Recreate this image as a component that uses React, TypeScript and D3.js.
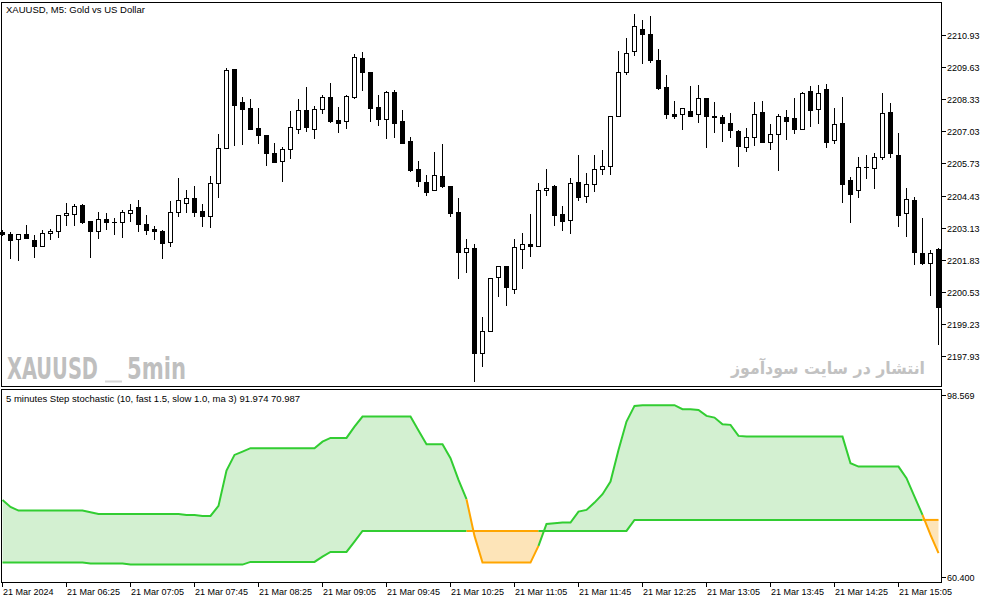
import React from 'react';
import * as d3 from 'd3';

// XAUUSD M5 candles, 21 Mar 2024 05:45 .. 15:30
const opens = [
  2202.96, 2202.87, 2202.66, 2202.87, 2202.64, 2202.40, 2202.91, 2203.00, 2203.63, 2203.67,
  2204.04, 2203.40, 2203.00, 2203.47, 2203.35, 2203.35, 2203.71, 2203.96, 2203.27, 2203.08,
  2203.00, 2202.54, 2203.75, 2204.14, 2204.32, 2203.79, 2203.59, 2204.93, 2206.34, 2209.53,
  2208.20, 2207.96, 2207.16, 2206.87, 2206.14, 2205.82, 2206.30, 2207.11, 2207.88, 2207.11,
  2207.92, 2208.40, 2207.47, 2207.43, 2208.43, 2209.98, 2209.41, 2207.99, 2207.54, 2208.60,
  2207.44, 2206.62, 2205.49, 2204.97, 2204.64, 2205.21, 2204.80, 2203.75, 2202.14, 2202.30,
  2198.06, 2198.97, 2201.13, 2201.57, 2200.64, 2202.26, 2202.46, 2202.38, 2204.64, 2204.80,
  2203.67, 2203.43, 2204.97, 2204.40, 2204.89, 2205.49, 2205.61, 2207.63, 2209.41, 2210.26,
  2211.15, 2210.95, 2209.90, 2208.80, 2207.71, 2207.71, 2207.84, 2207.71, 2208.36, 2207.63,
  2207.59, 2207.35, 2207.03, 2206.38, 2206.79, 2207.80, 2206.58, 2206.91, 2207.59, 2207.55,
  2207.11, 2208.64, 2207.92, 2208.72, 2206.66, 2207.35, 2205.05, 2204.64, 2205.57, 2205.53,
  2205.98, 2207.80, 2206.06, 2203.71, 2204.24, 2202.10, 2201.69, 2202.26,
];
const highs = [
  2203.04, 2202.95, 2202.87, 2203.24, 2202.83, 2203.04, 2203.09, 2203.63, 2204.13, 2204.09,
  2204.09, 2203.40, 2203.77, 2203.73, 2203.54, 2203.86, 2204.09, 2204.25, 2203.63, 2203.21,
  2203.04, 2204.20, 2205.14, 2204.64, 2204.82, 2204.09, 2205.22, 2206.91, 2209.57, 2209.53,
  2208.41, 2208.32, 2207.97, 2206.87, 2206.54, 2206.38, 2207.84, 2208.32, 2208.81, 2208.05,
  2208.48, 2208.97, 2208.00, 2208.48, 2210.14, 2210.22, 2209.41, 2208.48, 2208.64, 2208.68,
  2207.88, 2206.78, 2205.82, 2205.25, 2206.18, 2206.50, 2204.80, 2204.32, 2202.66, 2202.46,
  2199.51, 2201.09, 2201.57, 2201.57, 2202.68, 2202.92, 2203.69, 2204.94, 2205.50, 2204.85,
  2204.00, 2205.14, 2206.07, 2205.34, 2206.07, 2206.27, 2207.63, 2210.27, 2210.78, 2211.75,
  2211.51, 2211.67, 2210.34, 2209.29, 2208.25, 2207.96, 2208.85, 2208.89, 2208.36, 2208.20,
  2207.67, 2207.75, 2207.07, 2207.15, 2208.20, 2208.24, 2207.31, 2207.71, 2207.88, 2208.36,
  2208.60, 2208.85, 2208.89, 2208.93, 2207.96, 2208.40, 2205.17, 2205.98, 2206.06, 2206.14,
  2208.56, 2208.16, 2206.95, 2204.72, 2204.36, 2203.51, 2202.22, 2202.30,
];
const lows = [
  2202.80, 2201.86, 2201.80, 2202.66, 2201.90, 2202.40, 2202.64, 2202.73, 2203.21, 2203.21,
  2203.27, 2201.90, 2202.69, 2203.04, 2202.83, 2202.73, 2203.35, 2202.95, 2202.83, 2202.64,
  2201.87, 2202.36, 2203.55, 2203.74, 2203.55, 2203.17, 2203.13, 2204.34, 2206.34, 2206.45,
  2206.49, 2207.11, 2206.53, 2205.63, 2205.76, 2204.99, 2205.92, 2206.92, 2207.01, 2206.70,
  2207.74, 2207.37, 2206.97, 2207.13, 2208.34, 2208.67, 2207.42, 2207.25, 2206.70, 2206.77,
  2206.50, 2205.37, 2204.79, 2204.40, 2204.64, 2204.72, 2203.58, 2201.07, 2201.29, 2196.91,
  2197.49, 2198.97, 2200.32, 2199.98, 2200.44, 2201.48, 2201.96, 2202.38, 2204.43, 2203.21,
  2203.01, 2202.89, 2204.22, 2204.12, 2204.59, 2205.27, 2205.27, 2207.63, 2209.29, 2210.06,
  2209.73, 2209.77, 2208.71, 2207.51, 2207.51, 2207.07, 2207.62, 2207.35, 2206.34, 2206.95,
  2206.58, 2206.74, 2205.57, 2206.18, 2206.42, 2206.54, 2206.26, 2205.44, 2206.66, 2206.91,
  2207.07, 2207.19, 2207.31, 2206.34, 2206.50, 2204.12, 2203.31, 2204.32, 2205.09, 2204.68,
  2205.86, 2205.94, 2203.15, 2202.74, 2201.61, 2201.61, 2200.36, 2198.38,
];
const closes = [
  2202.86, 2202.62, 2202.87, 2202.73, 2202.40, 2202.91, 2203.00, 2203.63, 2203.73, 2204.00,
  2203.35, 2203.00, 2203.47, 2203.35, 2203.36, 2203.77, 2203.85, 2203.27, 2203.04, 2203.00,
  2202.50, 2203.75, 2204.24, 2204.32, 2203.78, 2203.62, 2204.93, 2206.34, 2209.49, 2208.10,
  2207.94, 2207.11, 2206.89, 2206.14, 2205.80, 2206.31, 2207.19, 2207.88, 2207.21, 2207.92,
  2208.40, 2207.46, 2207.37, 2208.44, 2210.02, 2209.41, 2207.98, 2207.54, 2208.60, 2207.37,
  2206.57, 2205.45, 2205.01, 2204.56, 2205.25, 2204.80, 2203.71, 2202.14, 2202.32, 2198.06,
  2198.97, 2201.09, 2201.57, 2200.72, 2202.34, 2202.46, 2202.38, 2204.64, 2204.72, 2203.66,
  2203.39, 2204.93, 2204.38, 2204.89, 2205.49, 2205.61, 2207.63, 2209.41, 2210.18, 2211.27,
  2210.95, 2209.90, 2208.79, 2207.71, 2207.63, 2207.96, 2207.66, 2208.36, 2207.63, 2207.59,
  2207.35, 2207.07, 2206.42, 2206.79, 2207.71, 2206.58, 2206.91, 2207.63, 2207.43, 2207.11,
  2208.56, 2207.88, 2208.56, 2206.58, 2207.31, 2204.89, 2204.48, 2205.57, 2205.58, 2205.98,
  2207.75, 2206.14, 2203.63, 2204.28, 2202.14, 2201.69, 2202.10, 2199.94,
];

// Step stochastic: main and signal
const mainLine = [
  76.49, 75.02, 74.24, 74.24, 74.24, 74.24, 74.24, 74.24, 74.24, 74.24,
  74.24, 73.91, 73.55, 73.55, 73.55, 73.55, 73.55, 73.55, 73.55, 73.55,
  73.55, 73.55, 73.55, 73.34, 73.34, 73.13, 73.13, 75.23, 82.63, 85.92,
  86.62, 87.33, 87.33, 87.33, 87.33, 87.33, 87.33, 87.33, 87.33, 87.33,
  88.71, 89.49, 89.49, 89.49, 91.86, 93.96, 93.96, 93.96, 93.96, 93.96,
  93.96, 93.96, 91.02, 88.17, 88.17, 88.17, 85.23, 80.68, 76.63, 68.94,
  63.34, 63.34, 63.34, 63.34, 63.34, 63.34, 63.34, 66.84, 71.45, 71.60,
  71.73, 71.73, 74.03, 74.39, 75.92, 77.68, 80.32, 86.97, 92.91, 96.20,
  96.35, 96.35, 96.35, 96.35, 96.35, 95.51, 95.51, 95.36, 94.10, 93.75,
  92.36, 92.22, 89.91, 89.76, 89.76, 89.76, 89.76, 89.76, 89.76, 89.76,
  89.76, 89.76, 89.76, 89.76, 89.76, 89.76, 84.18, 83.47, 83.47, 83.47,
  83.47, 83.47, 83.47, 81.04, 77.18, 73.34, 69.15, 65.31,
];
const signalLine = [
  63.34, 63.34, 63.34, 63.34, 63.34, 63.34, 63.34, 63.34, 63.34, 63.34,
  63.34, 63.13, 63.13, 63.13, 63.13, 63.13, 62.92, 62.92, 62.92, 62.92,
  62.92, 62.92, 62.92, 62.92, 62.92, 62.92, 62.92, 62.92, 62.92, 62.92,
  62.92, 63.48, 63.48, 63.48, 63.48, 63.48, 63.48, 63.48, 63.48, 63.48,
  64.59, 65.58, 65.58, 65.58, 67.74, 69.98, 69.98, 69.98, 69.98, 69.98,
  69.98, 69.98, 69.98, 69.98, 69.98, 69.98, 69.98, 69.98, 69.98, 69.98,
  69.98, 69.98, 69.98, 69.98, 69.98, 69.98, 69.98, 69.98, 69.98, 69.98,
  69.98, 69.98, 69.98, 69.98, 69.98, 69.98, 69.98, 69.98, 69.98, 72.29,
  72.29, 72.29, 72.29, 72.29, 72.29, 72.29, 72.29, 72.29, 72.29, 72.29,
  72.29, 72.29, 72.29, 72.29, 72.29, 72.29, 72.29, 72.29, 72.29, 72.29,
  72.29, 72.29, 72.29, 72.29, 72.29, 72.29, 72.29, 72.29, 72.29, 72.29,
  72.29, 72.29, 72.29, 72.29, 72.29, 72.29, 72.29, 72.29,
];

const timeLabels = [
  '21 Mar 2024', '21 Mar 06:25', '21 Mar 07:05', '21 Mar 07:45', '21 Mar 08:25',
  '21 Mar 09:05', '21 Mar 09:45', '21 Mar 10:25', '21 Mar 11:05', '21 Mar 11:45',
  '21 Mar 12:25', '21 Mar 13:05', '21 Mar 13:45', '21 Mar 14:25', '21 Mar 15:05',
];
const priceTicks = [
  2210.93, 2209.63, 2208.33, 2207.03, 2205.73, 2204.43,
  2203.13, 2201.83, 2200.53, 2199.23, 2197.93,
];
const stochTicks = [98.569, 60.4];

const GREEN = '#32cd32';
const ORANGE = '#ffa500';
const FONT = '"Liberation Sans", Arial, sans-serif';

export default function App() {
  const n = closes.length;
  const barStep = 8;
  const x = d3.scaleLinear().domain([0, n - 1]).range([2.5, 2.5 + barStep * (n - 1)]);
  const yPrice = d3.scaleLinear().domain([2197.93, 2210.93]).range([356.4, 34.7]);
  const yStoch = d3.scaleLinear().domain([60.4, 98.569]).range([576.6, 394.6]);

  // fill between main and signal, split where they cross
  const greenPolys: [number, number][][] = [];
  const orangePolys: [number, number][][] = [];
  for (let i = 0; i < n - 1; i++) {
    const m0 = mainLine[i], m1 = mainLine[i + 1];
    const s0 = signalLine[i], s1 = signalLine[i + 1];
    const d0 = m0 - s0, d1 = m1 - s1;
    const x0 = x(i), x1 = x(i + 1);
    if (d0 * d1 < 0) {
      const t = d0 / (d0 - d1);
      const xc = x0 + t * (x1 - x0);
      const vc = m0 + t * (m1 - m0);
      (d0 > 0 ? greenPolys : orangePolys).push([[x0, yStoch(m0)], [xc, yStoch(vc)], [x0, yStoch(s0)]]);
      (d1 > 0 ? greenPolys : orangePolys).push([[xc, yStoch(vc)], [x1, yStoch(m1)], [x1, yStoch(s1)]]);
    } else {
      (d0 + d1 >= 0 ? greenPolys : orangePolys).push([
        [x0, yStoch(m0)], [x1, yStoch(m1)], [x1, yStoch(s1)], [x0, yStoch(s0)],
      ]);
    }
  }
  const polyPath = (polys: [number, number][][]) =>
    polys.map(p => 'M' + p.map(q => q[0].toFixed(2) + ',' + q[1].toFixed(2)).join('L') + 'Z').join('');

  // line segments coloured by the state of the bar they end on
  const runs = (values: number[]) => {
    const out: { idx: number[]; color: string }[] = [];
    for (let i = 1; i < n; i++) {
      const color = mainLine[i] >= signalLine[i] ? GREEN : ORANGE;
      const last = out[out.length - 1];
      if (last && last.color === color) last.idx.push(i);
      else out.push({ idx: [i - 1, i], color });
    }
    const line = d3.line<number>().x(i => x(i)).y(i => yStoch(values[i]));
    return out.map(r => ({ d: line(r.idx) || '', color: r.color }));
  };
  const signalRuns = runs(signalLine);
  const mainRuns = runs(mainLine);

  return (
    <svg width={994} height={603} style={{ position: 'absolute', left: 0, top: 0, background: '#fff' }}
      fontFamily={FONT}>
      <rect x={0} y={0} width={994} height={603} fill="#fff" />

      {/* watermarks */}
      <text x={7} y={378.5} fontFamily='"Liberation Sans Narrow", "DejaVu Sans Condensed", sans-serif'
        fontWeight="bold" fontSize={30} fill="#bfbfbf" textLength={91} lengthAdjust="spacingAndGlyphs">XAUUSD</text>
      <rect x={105} y={380.5} width={17} height={2} fill="#d6d6d6" />
      <text x={127} y={378.5} fontFamily='"Liberation Sans Narrow", "DejaVu Sans Condensed", sans-serif'
        fontWeight="bold" fontSize={30} fill="#bfbfbf" textLength={59} lengthAdjust="spacingAndGlyphs">5min</text>
      <text x={731} y={374} fontFamily='"DejaVu Sans", sans-serif' fontWeight="bold"
        fontSize={17} fill="#c2c2c2" textLength={194} lengthAdjust="spacingAndGlyphs">انتشار در سایت سودآموز</text>

      {/* candles */}
      {closes.map((c, i) => {
        const o = opens[i];
        const cx = x(i);
        const top = Math.round(yPrice(Math.max(o, c)));
        const bot = Math.round(yPrice(Math.min(o, c)));
        const up = c >= o;
        return (
          <g key={i}>
            <line x1={cx} x2={cx} y1={Math.round(yPrice(highs[i]))} y2={Math.round(yPrice(lows[i]))}
              stroke="#000" strokeWidth={1} />
            {bot - top < 1 ? (
              <line x1={cx - 2.5} x2={cx + 2.5} y1={top + 0.5} y2={top + 0.5} stroke="#000" />
            ) : (
              <rect x={cx - 2} y={top + 0.5} width={4} height={bot - top} fill={up ? '#fff' : '#000'}
                stroke="#000" strokeWidth={1} />
            )}
          </g>
        );
      })}

      {/* stochastic */}
      <path d={polyPath(greenPolys)} fill="#d3f0d1" />
      <path d={polyPath(orangePolys)} fill="#fde4b8" />
      {signalRuns.map((r, k) => (
        <path key={'s' + k} d={r.d} fill="none" stroke={r.color} strokeWidth={2} />
      ))}
      {mainRuns.map((r, k) => (
        <path key={'m' + k} d={r.d} fill="none" stroke={r.color} strokeWidth={2} />
      ))}

      {/* frames */}
      <rect x={1.5} y={2.5} width={940} height={384} fill="none" stroke="#000" />
      <rect x={1.5} y={389.5} width={940} height={193} fill="none" stroke="#000" />

      {/* titles */}
      <text x={6} y={13} fontSize={9.5} fill="#000">XAUUSD, M5:  Gold vs US Dollar</text>
      <text x={6} y={402} fontSize={9.5} fill="#000">
        5 minutes Step stochastic (10, fast 1.5, slow 1.0, ma 3) 91.974 70.987
      </text>

      {/* price axis */}
      {priceTicks.map(p => {
        const y = Math.round(yPrice(p)) + 0.5;
        return (
          <g key={p}>
            <line x1={941.5} x2={946} y1={y} y2={y} stroke="#000" />
            <text x={947} y={y} dy="0.35em" fontSize={9} fill="#000">{p.toFixed(2)}</text>
          </g>
        );
      })}
      {stochTicks.map(v => {
        const y = Math.round(yStoch(v)) + 0.5;
        return (
          <g key={v}>
            <line x1={941.5} x2={946} y1={y} y2={y} stroke="#000" />
            <text x={947} y={y} dy="0.35em" fontSize={9} fill="#000">{v.toFixed(3)}</text>
          </g>
        );
      })}

      {/* time axis */}
      {timeLabels.map((t, k) => {
        const tx = x(k * barStep);
        return (
          <g key={t}>
            <line x1={tx} x2={tx} y1={582.5} y2={587} stroke="#000" />
            <text x={tx + 0.5} y={595} fontSize={9} fill="#000">{t}</text>
          </g>
        );
      })}
    </svg>
  );
}
